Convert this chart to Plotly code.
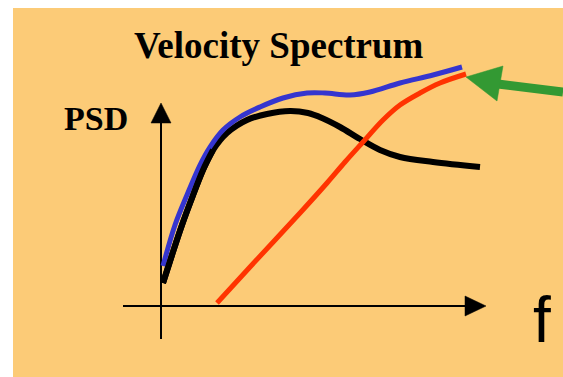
import plotly.graph_objects as go

# Curve data (pixel-like chart units: x to the right, y downward)
black_x = [163, 172, 182, 192, 203, 213, 227, 247, 267, 290, 308, 322, 340, 360, 380, 400, 433, 480]
black_y = [283, 255, 225, 198, 170, 150, 133, 120, 114, 111, 113, 118, 127, 139, 150, 157, 162, 167]

blue_x = [163, 175, 187, 200, 210, 223, 240, 260, 283, 307, 325, 350, 370, 400, 433, 462]
blue_y = [266, 225, 195, 165, 147, 130, 117, 107, 98, 93, 93, 95, 92, 83, 75, 67]

red_x = [217, 250, 300, 327, 345, 363, 383, 400, 420, 440, 466]
red_y = [303, 267, 213, 183, 162, 142, 120, 105, 93, 83, 74]

# Axes and arrows
yaxis_line_x = [161, 161]
yaxis_line_y = [339, 118]
yhead_x = [151, 161, 171, 151]
yhead_y = [123, 103, 123, 123]

xaxis_line_x = [123, 470]
xaxis_line_y = [306, 306]
xhead_x = [465, 486, 465, 465]
xhead_y = [296, 306, 316, 296]

green_shaft_x = [498, 563]
green_shaft_y = [84, 92]
green_head_x = [466, 503, 497, 466]
green_head_y = [77, 66, 101, 77]

title_text = "Velocity Spectrum"
ylabel_text = "PSD"
xlabel_text = "f"

BG = "#FCCB77"

fig = go.Figure()

def line(x, y, color, width, shape="spline"):
    fig.add_trace(go.Scatter(x=x, y=y, mode="lines",
                             line=dict(color=color, width=width, shape=shape, smoothing=1.0),
                             hoverinfo="skip", showlegend=False))

def poly(x, y, color):
    fig.add_trace(go.Scatter(x=x, y=y, mode="lines", fill="toself", fillcolor=color,
                             line=dict(color=color, width=0.5),
                             hoverinfo="skip", showlegend=False))

# axes
line(yaxis_line_x, yaxis_line_y, "#000000", 2, "linear")
poly(yhead_x, yhead_y, "#000000")
line(xaxis_line_x, xaxis_line_y, "#000000", 2, "linear")
poly(xhead_x, xhead_y, "#000000")

# curves
line(black_x, black_y, "#000000", 6)
line(blue_x, blue_y, "#3535CF", 5)
line(red_x, red_y, "#FF3300", 5)
# redraw black bottom part over blue
line(black_x[:6], black_y[:6], "#000000", 6)

# green arrow
line(green_shaft_x, green_shaft_y, "#339933", 9, "linear")
poly(green_head_x, green_head_y, "#339933")

fig.add_annotation(x=279, y=45, text="<b>" + title_text + "</b>", showarrow=False,
                   xanchor="center", yanchor="middle",
                   font=dict(family="Liberation Serif", size=37, color="#000000"))
fig.add_annotation(x=96, y=118, text="<b>" + ylabel_text + "</b>", showarrow=False,
                   xanchor="center", yanchor="middle",
                   font=dict(family="Liberation Serif", size=34, color="#000000"))
fig.add_annotation(x=542, y=320, text=xlabel_text, showarrow=False,
                   xanchor="center", yanchor="middle",
                   font=dict(family="Liberation Sans", size=64, color="#000000"))

fig.update_layout(
    width=563, height=377,
    margin=dict(l=0, r=0, t=0, b=0),
    paper_bgcolor="#FFFFFF",
    plot_bgcolor=BG,
    xaxis=dict(range=[13, 563], domain=[13 / 563, 1], visible=False, fixedrange=True),
    yaxis=dict(range=[377, 8], domain=[0, 1 - 8 / 377], visible=False, fixedrange=True),
)

fig.write_html("out.html", config={"displayModeBar": False, "staticPlot": True},
               post_script="document.body.style.margin='0';document.body.style.overflow='hidden';")
